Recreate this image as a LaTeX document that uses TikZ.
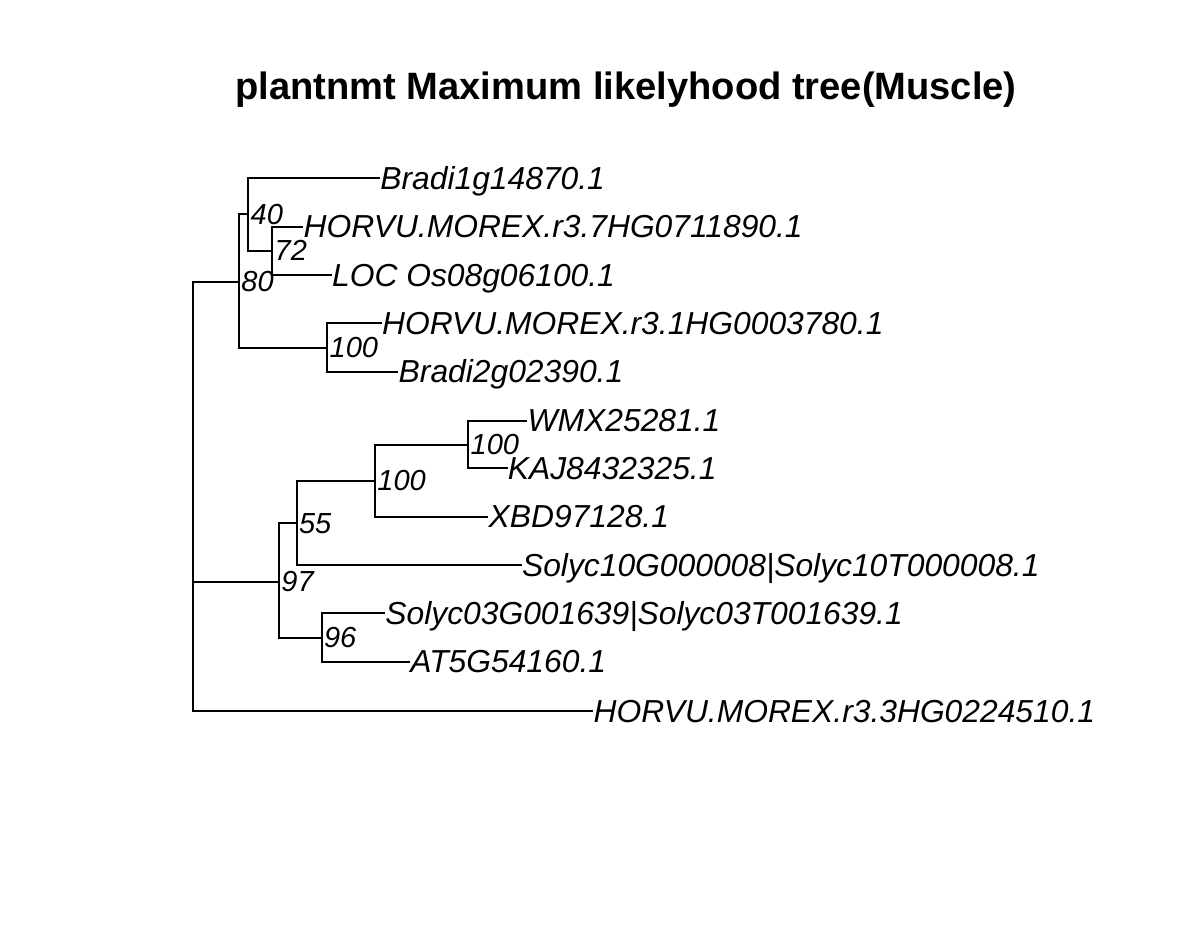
\documentclass[tikz,border=0pt]{standalone}
\usepackage{fontspec}
\setmainfont{Liberation Sans}
\usepackage{tikz}

\tikzset{
    branch/.style={line width=1pt},
    tiplab/.style={anchor=base west, inner sep=0pt, yshift=-5.6pt, font=\fontsize{15.9}{18}\selectfont\itshape},
    bootlab/.style={anchor=west, inner sep=0pt, xshift=1pt, font=\fontsize{14.5}{17}\selectfont\itshape}
}

\begin{document}
\begin{tikzpicture}[x=0.5pt, y=-0.5pt]
    \useasboundingbox (0,0) rectangle (1178,928);

    % Title
    \node[anchor=base, inner sep=0pt, font=\fontsize{19.05}{22}\selectfont\bfseries] (title) at (626,99) {plantnmt Maximum likelyhood tree(Muscle)};

    % Internal nodes
    \coordinate (root) at (192.7,581.7);
    \coordinate (n80) at (239,281.7);
    \coordinate (n40) at (248.3,214.3);
    \coordinate (n72) at (272.3,250.7);
    \coordinate (n100a) at (327.3,347.5);
    \coordinate (n97) at (279,581.7);
    \coordinate (n55) at (296.7,523.3);
    \coordinate (n100b) at (375,480.7);
    \coordinate (n100c) at (468.3,444.5);
    \coordinate (n96) at (321.7,637.7);

    % Tips
    \coordinate (t1) at (380,178.3);
    \coordinate (t2) at (303.3,226.7);
    \coordinate (t3) at (331.7,275);
    \coordinate (t4) at (381.7,323.3);
    \coordinate (t5) at (398.3,371.7);
    \coordinate (t6) at (527.3,420.7);
    \coordinate (t7) at (507.5,468.3);
    \coordinate (t8) at (488.3,516.5);
    \coordinate (t9) at (521.7,565);
    \coordinate (t10) at (385,613);
    \coordinate (t11) at (410,661.5);
    \coordinate (t12) at (593.3,711);

    % Branches
    \foreach \p/\c in {root/n80, root/n97, root/t12, n80/n40, n80/n100a, n40/t1, n40/n72,
                       n72/t2, n72/t3, n100a/t4, n100a/t5, n97/n55, n97/n96, n55/n100b,
                       n55/t9, n100b/n100c, n100b/t8, n100c/t6, n100c/t7, n96/t10, n96/t11}
        \draw[branch] (\p) |- (\c);

    % Tip labels
    \node[tiplab] (l1) at (t1) {Bradi1g14870.1};
    \node[tiplab] (l2) at (t2) {HORVU.MOREX.r3.7HG0711890.1};
    \node[tiplab] (l3) at (t3) {LOC Os08g06100.1};
    \node[tiplab] (l4) at (t4) {HORVU.MOREX.r3.1HG0003780.1};
    \node[tiplab] (l5) at (t5) {Bradi2g02390.1};
    \node[tiplab] (l6) at (t6) {WMX25281.1};
    \node[tiplab] (l7) at (t7) {KAJ8432325.1};
    \node[tiplab] (l8) at (t8) {XBD97128.1};
    \node[tiplab] (l9) at (t9) {Solyc10G000008|Solyc10T000008.1};
    \node[tiplab] (l10) at (t10) {Solyc03G001639|Solyc03T001639.1};
    \node[tiplab] (l11) at (t11) {AT5G54160.1};
    \node[tiplab] (l12) at (t12) {HORVU.MOREX.r3.3HG0224510.1};

    % Bootstrap values
    \node[bootlab] (b40) at (n40) {40};
    \node[bootlab] (b72) at (n72) {72};
    \node[bootlab] (b80) at (n80) {80};
    \node[bootlab] (b100a) at (n100a) {100};
    \node[bootlab] (b100c) at (n100c) {100};
    \node[bootlab] (b100b) at (n100b) {100};
    \node[bootlab] (b55) at (n55) {55};
    \node[bootlab] (b97) at (n97) {97};
    \node[bootlab] (b96) at (n96) {96};
\end{tikzpicture}
\end{document}
